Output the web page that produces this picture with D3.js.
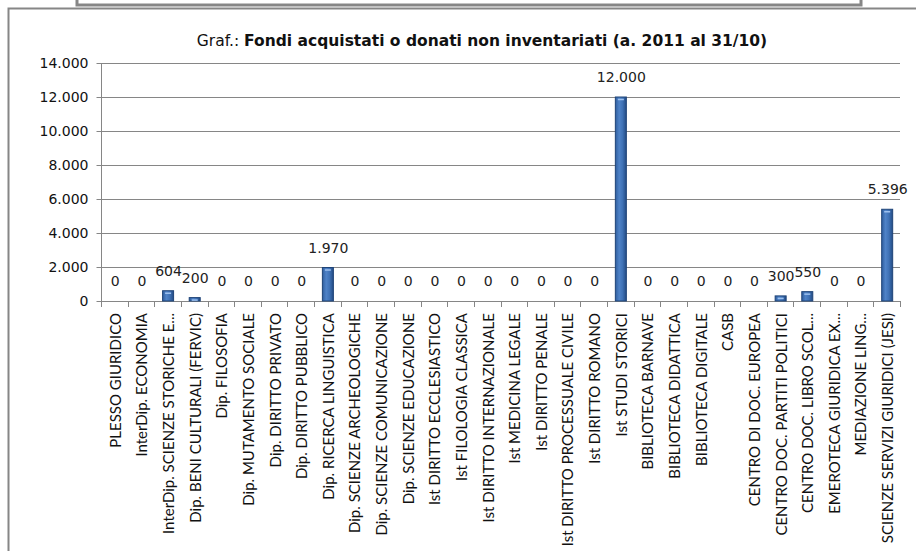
<!DOCTYPE html>
<html>
<head>
<meta charset="utf-8">
<script src="https://cdn.jsdelivr.net/npm/d3@7"></script>
<style>
  body { margin: 0; background: #fff; }
  svg { display: block; }
  text { font-family: "DejaVu Sans", sans-serif; }
</style>
</head>
<body>
<svg id="chart" width="916" height="551"></svg>
<script>
// Library units and volumes acquired/donated but not yet inventoried
const categories = [
  "PLESSO GIURIDICO",
  "InterDip. ECONOMIA",
  "InterDip. SCIENZE STORICHE E...",
  "Dip. BENI CULTURALI (FERVIC)",
  "Dip. FILOSOFIA",
  "Dip. MUTAMENTO SOCIALE",
  "Dip. DIRITTO PRIVATO",
  "Dip. DIRITTO PUBBLICO",
  "Dip. RICERCA LINGUISTICA",
  "Dip. SCIENZE ARCHEOLOGICHE",
  "Dip. SCIENZE COMUNICAZIONE",
  "Dip. SCIENZE EDUCAZIONE",
  "Ist DIRITTO ECCLESIASTICO",
  "Ist FILOLOGIA CLASSICA",
  "Ist DIRITTO INTERNAZIONALE",
  "Ist MEDICINA LEGALE",
  "Ist DIRITTO PENALE",
  "Ist DIRITTO PROCESSUALE CIVILE",
  "Ist DIRITTO ROMANO",
  "Ist STUDI STORICI",
  "BIBLIOTECA BARNAVE",
  "BIBLIOTECA DIDATTICA",
  "BIBLIOTECA DIGITALE",
  "CASB",
  "CENTRO DI DOC. EUROPEA",
  "CENTRO DOC. PARTITI POLITICI",
  "CENTRO DOC. LIBRO SCOL...",
  "EMEROTECA GIURIDICA EX...",
  "MEDIAZIONE LING...",
  "SCIENZE SERVIZI GIURIDICI (JESI)"
];
const values = [
  0, 0, 604, 200, 0, 0, 0, 0, 1970, 0,
  0, 0, 0, 0, 0, 0, 0, 0, 0, 12000,
  0, 0, 0, 0, 0, 300, 550, 0, 0, 5396
];
const yTicks = [0, 2000, 4000, 6000, 8000, 10000, 12000, 14000];
const titlePrefix = "Graf.: ";
const titleMain = "Fondi acquistati o donati non inventariati (a. 2011 al 31/10)";

// Italian thousands separator
const fmt = v => d3.format(",")(v).replace(/,/g, ".");

const svg = d3.select("#chart");
const plot = { left: 101, right: 900, top: 63, bottom: 301 };

// Outer chart frame and the text box sitting above it
svg.append("rect")
  .attr("x", 8.5).attr("y", 8.5).attr("width", 930).attr("height", 560)
  .attr("fill", "#fff").attr("stroke", "#868686").attr("stroke-width", 2);
svg.append("rect")
  .attr("x", 77).attr("y", -20).attr("width", 784).attr("height", 25)
  .attr("fill", "#fff").attr("stroke", "#868686").attr("stroke-width", 3);

const x = d3.scaleBand().domain(categories).range([plot.left, plot.right]);
const y = d3.scaleLinear().domain([0, 14000]).range([plot.bottom, plot.top]);

// Horizontal gridlines
svg.append("g").selectAll("line").data(yTicks.filter(t => t > 0)).join("line")
  .attr("x1", plot.left).attr("x2", plot.right)
  .attr("y1", d => Math.round(y(d)) + 0.5).attr("y2", d => Math.round(y(d)) + 0.5)
  .attr("stroke", "#868686").attr("stroke-width", 1);

// Y axis
const yAxis = svg.append("g")
  .attr("transform", `translate(${plot.left + 0.5},0)`)
  .call(d3.axisLeft(y).tickValues(yTicks).tickFormat(fmt).tickSize(5).tickPadding(8));
yAxis.select(".domain").attr("stroke", "#868686").attr("d", `M0,${plot.top}V${plot.bottom}`);
yAxis.selectAll(".tick line").attr("stroke", "#868686");
yAxis.selectAll(".tick text")
  .attr("fill", "#111").style("font-size", "14px").style("font-family", "DejaVu Sans");

// X axis baseline with tick marks between categories
const xg = svg.append("g");
xg.append("line")
  .attr("x1", plot.left).attr("x2", plot.right)
  .attr("y1", plot.bottom + 0.5).attr("y2", plot.bottom + 0.5)
  .attr("stroke", "#868686");
const bounds = categories.map(c => x(c)).concat([plot.right]);
xg.selectAll("line.tk").data(bounds).join("line").attr("class", "tk")
  .attr("x1", d => Math.round(d) + 0.5).attr("x2", d => Math.round(d) + 0.5)
  .attr("y1", plot.bottom).attr("y2", plot.bottom + 6)
  .attr("stroke", "#868686");

// Category labels, rotated
const xAxis = svg.append("g")
  .attr("transform", `translate(0,${plot.bottom})`)
  .call(d3.axisBottom(x).tickSize(0).tickPadding(0));
xAxis.select(".domain").remove();
xAxis.selectAll(".tick text")
  .attr("transform", "rotate(-90)")
  .attr("x", -12).attr("y", 1).attr("dy", "0.36em")
  .attr("text-anchor", "end")
  .attr("fill", "#111")
  .style("font-size", "15px").style("font-family", "Lato");

// Bar gradient: darker edges, lighter centre
const defs = svg.append("defs");
const grad = defs.append("linearGradient").attr("id", "barGrad")
  .attr("x1", "0").attr("x2", "1").attr("y1", "0").attr("y2", "0");
grad.append("stop").attr("offset", "0%").attr("stop-color", "#2f5e9e");
grad.append("stop").attr("offset", "35%").attr("stop-color", "#4f83c8");
grad.append("stop").attr("offset", "65%").attr("stop-color", "#3f72b6");
grad.append("stop").attr("offset", "100%").attr("stop-color", "#244c85");

const barW = 11;
const bars = svg.append("g").selectAll("g").data(categories.map((c, i) => ({ c, v: values[i] }))).join("g");
bars.filter(d => d.v > 0).append("rect")
  .attr("x", d => x(d.c) + x.bandwidth() / 2 - barW / 2 + 0.5)
  .attr("y", d => y(d.v))
  .attr("width", barW)
  .attr("height", d => plot.bottom - y(d.v))
  .attr("fill", "url(#barGrad)")
  .attr("stroke", "#1f4478").attr("stroke-width", 1);
// light cap on the top of each bar
bars.filter(d => d.v > 0).append("line")
  .attr("x1", d => x(d.c) + x.bandwidth() / 2 - 2.5)
  .attr("x2", d => x(d.c) + x.bandwidth() / 2 + 3.5)
  .attr("y1", d => y(d.v) + 2.5).attr("y2", d => y(d.v) + 2.5)
  .attr("stroke", "#9cc0ee").attr("stroke-width", 1.5);

// Value labels above each bar
bars.append("text")
  .attr("x", d => x(d.c) + x.bandwidth() / 2 + 1)
  .attr("y", d => y(d.v) - 15)
  .attr("text-anchor", "middle")
  .attr("fill", "#222")
  .style("font-size", "14px")
  .text(d => fmt(d.v));

// Title
const title = svg.append("text")
  .attr("x", 482).attr("y", 46)
  .attr("text-anchor", "middle")
  .attr("fill", "#111")
  .style("font-size", "15.5px");
title.append("tspan").text(titlePrefix);
title.append("tspan").style("font-weight", "bold").text(titleMain);
</script>
</body>
</html>
